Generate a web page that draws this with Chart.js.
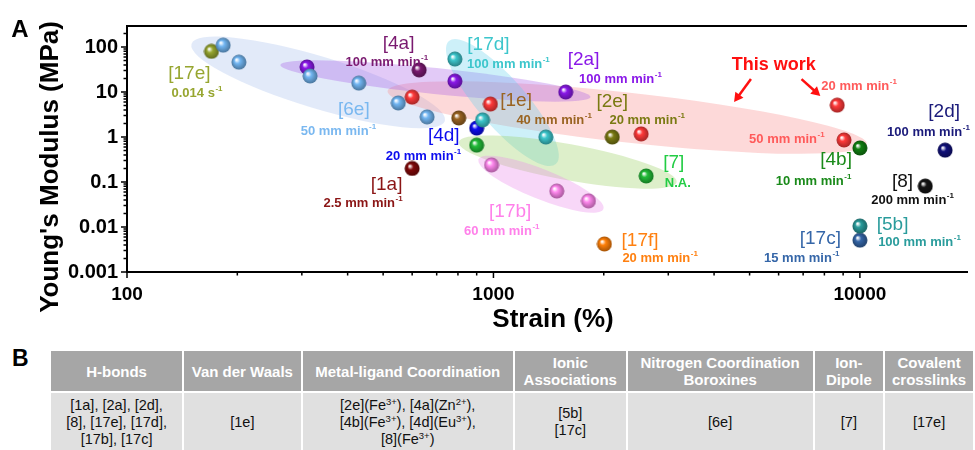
<!DOCTYPE html>
<html>
<head>
<meta charset="utf-8">
<script src="https://cdn.jsdelivr.net/npm/chart.js@4.4.1/dist/chart.umd.min.js"></script>
<style>
  body { margin: 0; background: #fff; width: 975px; height: 450px; overflow: hidden; position: relative;
         font-family: "Liberation Sans", Arial, sans-serif; }
  #wrap { position: absolute; left: 0; top: 0; width: 975px; height: 340px; }
  #panelB { position: absolute; left: 12px; top: 345px; font: bold 23px "Liberation Sans", Arial, sans-serif; }
  table { position: absolute; left: 49px; top: 349px; border-collapse: collapse; table-layout: fixed; }
  th { background: #a6a6a6; color: #fff; font-weight: bold; font-size: 15px; height: 40px;
       border: 2px solid #fff; padding: 0 2px; line-height: 17px; }
  td { background: #e0e0e0; color: #111; font-size: 14.5px; height: 58px; border: 2px solid #fff;
       text-align: center; line-height: 17px; padding: 0 2px; }
  sup { font-size: 9.5px; line-height: 0; vertical-align: 5px; }
</style>
</head>
<body>
<div id="wrap"><canvas id="chart" width="975" height="340"></canvas></div>
<div id="panelB">B</div>
<table>
  <colgroup>
    <col style="width:135px"><col style="width:120px"><col style="width:215px"><col style="width:113px">
    <col style="width:189px"><col style="width:71px"><col style="width:90px">
  </colgroup>
  <tr>
    <th>H-bonds</th><th>Van der Waals</th><th>Metal-ligand Coordination</th><th>Ionic Associations</th>
    <th>Nitrogen Coordination Boroxines</th><th>Ion-Dipole</th><th>Covalent crosslinks</th>
  </tr>
  <tr>
    <td>[1a], [2a], [2d],<br>[8], [17e], [17d],<br>[17b], [17c]</td>
    <td>[1e]</td>
    <td>[2e](Fe<sup>3+</sup>), [4a](Zn<sup>2+</sup>),<br>[4b](Fe<sup>3+</sup>), [4d](Eu<sup>3+</sup>),<br>[8](Fe<sup>3+</sup>)</td>
    <td>[5b]<br>[17c]</td>
    <td>[6e]</td>
    <td>[7]</td>
    <td>[17e]</td>
  </tr>
</table>
<script>
// axis ticks
const strainTicks = [100, 1000, 10000];
const strainTickLabels = ["100", "1000", "10000"];
const modulusTicks = [0.001, 0.01, 0.1, 1, 10, 100];
const modulusTickLabels = ["0.001", "0.01", "0.1", "1", "10", "100"];

// [strain %, Young's modulus MPa]
const ref17e = [[170, 80]];
const ref6e = [[183, 110], [202, 46], [316, 22.7], [429, 15.8], [550, 5.7], [659, 2.8]];
const ref2a = [[310, 36], [785, 17.5], [1575, 10]];
const ref4a = [[627, 31]];
const ref17d = [[785, 54], [934, 2.4], [1390, 1.0]];
const refThisWork = [[600, 7.7], [981, 5.4], [2530, 1.17], [8670, 5.1], [9050, 0.86]];
const ref1e = [[804, 2.65]];
const ref2e = [[2110, 1.0]];
const ref4d = [[900, 1.58]];
const ref7 = [[900, 0.66], [2610, 0.136]];
const ref4b = [[10000, 0.57]];
const ref2d = [[17080, 0.51]];
const ref8 = [[15080, 0.081]];
const ref1a = [[600, 0.2]];
const ref17b = [[988, 0.24], [1489, 0.063], [1817, 0.038]];
const ref17f = [[2008, 0.0042]];
const ref5b = [[10000, 0.0105]];
const ref17c = [[10000, 0.0051]];

const series = [
  { pts: ref6e, color: "#72b6f2" },
  { pts: ref17e, color: "#97a630" },
  { pts: ref2a, color: "#8a18e8" },
  { pts: ref4a, color: "#7a1a70" },
  { pts: ref17d, color: "#3cc6cc" },
  { pts: refThisWork, color: "#ff3a3a" },
  { pts: ref1e, color: "#9a6422" },
  { pts: ref2e, color: "#7a7a12" },
  { pts: ref4d, color: "#0c0cee" },
  { pts: ref7, color: "#22bb38" },
  { pts: ref4b, color: "#118011" },
  { pts: ref2d, color: "#10107a" },
  { pts: ref8, color: "#151515" },
  { pts: ref1a, color: "#800808" },
  { pts: ref17b, color: "#ff88ee" },
  { pts: ref17f, color: "#ff8008" },
  { pts: ref5b, color: "#2a9c9c" },
  { pts: ref17c, color: "#3566a8" }
];

// shaded groups: tips of the long axis in data units, half thickness in px
const groupEllipses = [
  { from: [150, 117], to: [737, 2.27], half: 26, fill: "rgba(150,180,235,0.28)" },
  { from: [514, 10.5], to: [10440, 0.70], half: 25, fill: "rgba(250,140,140,0.33)" },
  { from: [262, 40], to: [1840, 7.7], half: 13, fill: "rgba(160,80,230,0.30)" },
  { from: [756, 136], to: [1480, 0.25], half: 24, fill: "rgba(90,205,235,0.30)" },
  { from: [804, 0.77], to: [3162, 0.1], half: 18, fill: "rgba(150,205,90,0.32)" },
  { from: [911, 0.32], to: [1995, 0.025], half: 15, fill: "rgba(235,140,235,0.35)" }
];

// annotation text at data positions
const tags = [
  { tag: "[17e]", tagAt: [148, 25], note: "0.014 s", sup: "-1", noteAt: [155, 9.5], color: "#97a630" },
  { tag: "[6e]", tagAt: [416, 4.0], note: "50 mm min", sup: "-1", noteAt: [377, 1.36], color: "#7ab8f0" },
  { tag: "[4a]", tagAt: [551, 117], note: "100 mm min", sup: "-1", noteAt: [511, 46], color: "#7a1a70" },
  { tag: "[17d]", tagAt: [969, 111], note: "100 mm min", sup: "-1", noteAt: [1097, 42], color: "#3cc6cc" },
  { tag: "[2a]", tagAt: [1762, 51], note: "100 mm min", sup: "-1", noteAt: [2218, 19.5], color: "#8a18e8" },
  { tag: "[1e]", tagAt: [1153, 6.3], note: "40 mm min", sup: "-1", noteAt: [1462, 2.39], color: "#9a6422" },
  { tag: "[2e]", tagAt: [2110, 6.0], note: "20 mm min", sup: "-1", noteAt: [2624, 2.39], color: "#7a7a12" },
  { tag: "[4d]", tagAt: [732, 1.05], note: "20 mm min", sup: "-1", noteAt: [643, 0.378], color: "#0c0cee" },
  { tag: "[1a]", tagAt: [511, 0.0857], note: "2.5 mm min", sup: "-1", noteAt: [440, 0.0341], color: "#8b1515" },
  { tag: "[7]", tagAt: [3104, 0.264], note: "N.A.", sup: "", noteAt: [3184, 0.095], color: "#22cc44" },
  { tag: "[17b]", tagAt: [1111, 0.0215], note: "60 mm min", sup: "-1", noteAt: [1052, 0.00815], color: "#ff80ea" },
  { tag: "[17f]", tagAt: [2512, 0.00489], note: "20 mm min", sup: "-1", noteAt: [2846, 0.00205], color: "#ff8010" },
  { tag: "This work", tagAt: [5820, 39.8], note: "", sup: "", noteAt: null, color: "#ff1010", bold: true },
  { tag: "", tagAt: null, note: "20 mm min", sup: "-1", noteAt: [9935, 13.6], color: "#ff5a5a" },
  { tag: "", tagAt: null, note: "50 mm min", sup: "-1", noteAt: [6310, 0.903], color: "#ff5a5a" },
  { tag: "[4b]", tagAt: [8610, 0.308], note: "10 mm min", sup: "-1", noteAt: [7464, 0.105], color: "#1a8a1a" },
  { tag: "[2d]", tagAt: [16980, 3.6], note: "100 mm min", sup: "-1", noteAt: [15360, 1.29], color: "#1a1a7a" },
  { tag: "[8]", tagAt: [13070, 0.1], note: "200 mm min", sup: "-1", noteAt: [13900, 0.0398], color: "#111" },
  { tag: "[5b]", tagAt: [12280, 0.0111], note: "100 mm min", sup: "-1", noteAt: [14520, 0.00464], color: "#2a9c9c" },
  { tag: "[17c]", tagAt: [7798, 0.0054], note: "15 mm min", sup: "-1", noteAt: [6929, 0.00205], color: "#3566a8" }
];

// "This work" arrows, data positions
const arrows = [
  { from: [5043, 19.4], to: [4535, 6.0] },
  { from: [6929, 19.4], to: [7798, 8.15] }
];

const FONT = '"Liberation Sans", Arial, sans-serif';

function shade(hex, f) {
  let r, g, b;
  if (hex.length === 4) {
    r = parseInt(hex[1] + hex[1], 16); g = parseInt(hex[2] + hex[2], 16); b = parseInt(hex[3] + hex[3], 16);
  } else {
    const n = parseInt(hex.slice(1), 16);
    r = (n >> 16) & 255; g = (n >> 8) & 255; b = n & 255;
  }
  return `rgb(${Math.round(r * f)},${Math.round(g * f)},${Math.round(b * f)})`;
}

// little shaded sphere used as the point style
function makeBall(color) {
  const r = 7.5, size = 16;
  const c = document.createElement("canvas");
  c.width = size; c.height = size;
  const g = c.getContext("2d");
  const grad = g.createRadialGradient(size / 2 - 2.5, size / 2 - 2.5, 0.5, size / 2, size / 2, r);
  grad.addColorStop(0, "rgba(255,255,255,0.95)");
  grad.addColorStop(0.35, color);
  grad.addColorStop(1, shade(color, 0.65));
  g.fillStyle = grad;
  g.beginPath();
  g.arc(size / 2, size / 2, r, 0, Math.PI * 2);
  g.fill();
  return c;
}

function drawText(ctx, text, sup, x, y, font, supFont, color) {
  ctx.font = font;
  const w1 = ctx.measureText(text).width;
  ctx.font = supFont;
  const w2 = sup ? ctx.measureText(sup).width : 0;
  const start = x - (w1 + w2) / 2;
  ctx.fillStyle = color;
  ctx.textAlign = "left";
  ctx.textBaseline = "middle";
  ctx.font = font;
  ctx.fillText(text, start, y);
  if (sup) {
    ctx.font = supFont;
    ctx.fillText(sup, start + w1 + 0.5, y - 4);
  }
}

const ellipsePlugin = {
  id: "ellipses",
  beforeDatasetsDraw(chart) {
    const { ctx, scales: { x, y } } = chart;
    ctx.save();
    groupEllipses.forEach(e => {
      const x1 = x.getPixelForValue(e.from[0]), y1 = y.getPixelForValue(e.from[1]);
      const x2 = x.getPixelForValue(e.to[0]), y2 = y.getPixelForValue(e.to[1]);
      const len = Math.hypot(x2 - x1, y2 - y1);
      ctx.fillStyle = e.fill;
      ctx.beginPath();
      ctx.ellipse((x1 + x2) / 2, (y1 + y2) / 2, len / 2, e.half, Math.atan2(y2 - y1, x2 - x1), 0, Math.PI * 2);
      ctx.fill();
    });
    ctx.restore();
  }
};

const decorPlugin = {
  id: "decor",
  afterDraw(chart) {
    const { ctx, chartArea: a, scales: { x, y } } = chart;
    ctx.save();
    // top frame line
    ctx.strokeStyle = "#000";
    ctx.lineWidth = 2;
    ctx.beginPath();
    ctx.moveTo(a.left, a.top);
    ctx.lineTo(a.right, a.top);
    ctx.stroke();

    // major and minor tick marks
    ctx.lineWidth = 1.5;
    ctx.beginPath();
    strainTicks.forEach(d => {
      for (let m = 1; m <= 9; m++) {
        const v = d * m;
        if (v > x.max) break;
        const px = x.getPixelForValue(v), len = m === 1 ? 6 : 3.5;
        ctx.moveTo(px, a.bottom);
        ctx.lineTo(px, a.bottom + len);
      }
    });
    modulusTicks.forEach(d => {
      for (let m = 1; m <= 9; m++) {
        const v = d * m;
        if (v > y.max) break;
        const py = y.getPixelForValue(v), len = m === 1 ? 6 : 3.5;
        ctx.moveTo(a.left, py);
        ctx.lineTo(a.left - len, py);
      }
    });
    ctx.stroke();

    // annotations
    tags.forEach(t => {
      if (t.tag) {
        const f = t.bold ? `bold 18px ${FONT}` : `19px ${FONT}`;
        drawText(ctx, t.tag, "", x.getPixelForValue(t.tagAt[0]), y.getPixelForValue(t.tagAt[1]), f, f, t.color);
      }
      if (t.note) {
        drawText(ctx, t.note, t.sup, x.getPixelForValue(t.noteAt[0]), y.getPixelForValue(t.noteAt[1]),
          `bold 13px ${FONT}`, `bold 8px ${FONT}`, t.color);
      }
    });

    // arrows
    ctx.strokeStyle = "#ff1010";
    ctx.fillStyle = "#ff1010";
    ctx.lineWidth = 2.5;
    arrows.forEach(ar => {
      const x1 = x.getPixelForValue(ar.from[0]), y1 = y.getPixelForValue(ar.from[1]);
      const x2 = x.getPixelForValue(ar.to[0]), y2 = y.getPixelForValue(ar.to[1]);
      const ang = Math.atan2(y2 - y1, x2 - x1);
      ctx.beginPath();
      ctx.moveTo(x1, y1);
      ctx.lineTo(x2 - 6 * Math.cos(ang), y2 - 6 * Math.sin(ang));
      ctx.stroke();
      ctx.beginPath();
      ctx.moveTo(x2, y2);
      ctx.lineTo(x2 - 9 * Math.cos(ang) + 5 * Math.sin(ang), y2 - 9 * Math.sin(ang) - 5 * Math.cos(ang));
      ctx.lineTo(x2 - 9 * Math.cos(ang) - 5 * Math.sin(ang), y2 - 9 * Math.sin(ang) + 5 * Math.cos(ang));
      ctx.closePath();
      ctx.fill();
    });

    // axis titles and panel letter
    ctx.fillStyle = "#000";
    ctx.textAlign = "center";
    ctx.textBaseline = "middle";
    ctx.font = `bold 26px ${FONT}`;
    ctx.fillText("Strain (%)", 553, a.bottom + 48);
    ctx.save();
    ctx.translate(51, 167);
    ctx.rotate(-Math.PI / 2);
    ctx.fillText("Young's Modulus (MPa)", 0, 0);
    ctx.restore();
    ctx.font = `bold 24px ${FONT}`;
    ctx.fillText("A", 20, 30);
    ctx.restore();
  }
};

new Chart(document.getElementById("chart"), {
  type: "scatter",
  data: {
    datasets: series.map(s => ({
      data: s.pts.map(p => ({ x: p[0], y: p[1] })),
      pointStyle: makeBall(s.color),
      pointRadius: 7,
      backgroundColor: s.color
    }))
  },
  options: {
    responsive: false,
    animation: false,
    events: [],
    layout: { padding: { top: 26, right: 0, left: 0, bottom: 0 } },
    plugins: { legend: { display: false }, tooltip: { enabled: false } },
    scales: {
      x: {
        type: "logarithmic",
        min: 100,
        max: 19600,
        afterBuildTicks: sc => { sc.ticks = strainTicks.map(v => ({ value: v })); },
        afterFit: sc => { sc.height = 68; },
        ticks: {
          autoSkip: false,
          maxRotation: 0,
          padding: 11,
          color: "#000",
          font: { family: FONT, size: 19, weight: "bold" },
          callback: (v, i) => strainTickLabels[i]
        },
        grid: { display: false, drawTicks: false },
        border: { display: true, color: "#000", width: 2 }
      },
      y: {
        type: "logarithmic",
        min: 0.001,
        max: 293,
        afterBuildTicks: sc => { sc.ticks = modulusTicks.map(v => ({ value: v })); },
        afterFit: sc => { sc.width = 127; },
        ticks: {
          autoSkip: false,
          padding: 9,
          color: "#000",
          font: { family: FONT, size: 20, weight: "bold" },
          callback: (v, i) => modulusTickLabels[i]
        },
        grid: { display: false, drawTicks: false },
        border: { display: true, color: "#000", width: 2 }
      }
    }
  },
  plugins: [ellipsePlugin, decorPlugin]
});
</script>
</body>
</html>
